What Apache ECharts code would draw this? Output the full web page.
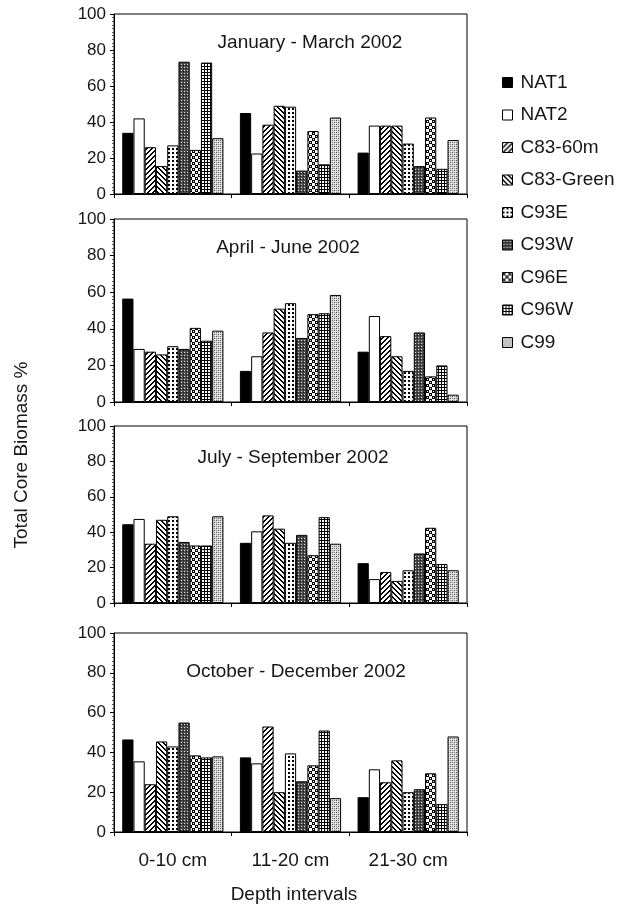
<!DOCTYPE html>
<html>
<head>
<meta charset="utf-8">
<script src="https://cdn.jsdelivr.net/npm/echarts@6/dist/echarts.min.js"></script>
<style>
html,body{margin:0;padding:0;background:#fff;}
#chart{width:622px;height:906px;}
</style>
</head>
<body>
<div id="chart"></div>
<script>
// ---- data ----
const categories = ['0-10 cm', '11-20 cm', '21-30 cm'];
const seriesNames = ['NAT1', 'NAT2', 'C83-60m', 'C83-Green', 'C93E', 'C93W', 'C96E', 'C96W', 'C99'];
const periods = ['January - March 2002', 'April - June 2002', 'July - September 2002', 'October - December 2002'];
const yTickLabels = ['0', '20', '40', '60', '80', '100'];

// rows: one per series (same order as seriesNames), columns: depth intervals
const janMar = [
  [34, 45, 23],
  [42, 22.5, 38],
  [26, 38.5, 38],
  [15.5, 49, 38],
  [27, 48.5, 28],
  [73.5, 13, 15.5],
  [24.5, 35, 42.5],
  [73, 16.5, 14],
  [31, 42.5, 30]
];
const aprJun = [
  [56.5, 17, 27.5],
  [29, 25, 47],
  [27.5, 38, 36],
  [26, 51, 25],
  [30.5, 54, 17],
  [29, 35, 38],
  [40.5, 48, 14],
  [33.5, 48.5, 20],
  [39, 58.5, 4]
];
const julSep = [
  [44.5, 34, 22.5],
  [47.5, 40.5, 13.5],
  [33.5, 49.5, 17.5],
  [47, 42, 12.5],
  [49, 34, 18.5],
  [34.5, 38.5, 28],
  [32.5, 27, 42.5],
  [32.5, 48.5, 22],
  [49, 33.5, 18.5]
];
const octDec = [
  [46.5, 37.5, 17.5],
  [35.5, 34.5, 31.5],
  [24, 53, 25],
  [45.5, 20, 36],
  [43, 39.5, 20],
  [55, 25.5, 21.5],
  [38.5, 33.5, 29.5],
  [37.5, 51, 14],
  [38, 17, 48]
];
const panelData = [janMar, aprJun, julSep, octDec];

// ---- patterns ----
function pat(w, h, bg, draw) {
  const c = document.createElement('canvas');
  c.width = w; c.height = h;
  const g = c.getContext('2d');
  g.fillStyle = bg; g.fillRect(0, 0, w, h);
  g.fillStyle = '#000';
  draw(g, w, h);
  return { image: c, repeat: 'repeat' };
}
const fills = [
  '#000000',
  '#ffffff',
  pat(5, 5, '#fff', (g, w) => { for (let y = 0; y < w; y++) for (let k = 0; k < 2; k++) g.fillRect((w - 1 - y + k + w) % w, y, 1, 1); }),
  pat(5, 5, '#fff', (g, w) => { for (let y = 0; y < w; y++) for (let k = 0; k < 2; k++) g.fillRect((y + k) % w, y, 1, 1); }),
  pat(4, 4, '#fff', (g) => { g.fillRect(0, 0, 2, 2); }),
  pat(3, 3, '#4a4a4a', (g) => { g.fillStyle = '#ddd'; g.fillRect(1, 1, 1, 1); g.fillStyle = '#111'; g.fillRect(0, 2, 1, 1); }),
  pat(6, 6, '#fff', (g) => { g.fillRect(0, 0, 3, 3); g.fillRect(3, 3, 3, 3); g.fillStyle = '#fff'; g.fillRect(1, 1, 1, 1); g.fillRect(4, 4, 1, 1); }),
  pat(3, 3, '#fff', (g) => { g.fillRect(0, 0, 3, 1); g.fillRect(0, 0, 1, 3); }),
  pat(4, 4, '#d8d8d8', (g) => { g.fillStyle = '#555'; g.fillRect(0, 0, 1, 1); g.fillRect(2, 2, 1, 1); g.fillStyle = '#888'; g.fillRect(2, 0, 1, 1); g.fillRect(0, 2, 1, 1); g.fillStyle = '#fff'; g.fillRect(1, 1, 1, 1); g.fillRect(3, 3, 1, 1); })
];

// ---- layout ----
const grids = [
  { left: 114, right: 155, top: 14, height: 180 },
  { left: 114, right: 155, top: 219, height: 183 },
  { left: 114, right: 155, top: 426, height: 177 },
  { left: 114, right: 155, top: 633, height: 199 }
];
const titlePos = [[310, 43], [288, 248], [293, 458], [296, 672]];
const FONT = '"Liberation Sans", Arial, sans-serif';
const txt = '#161616';

const xAxes = grids.map((g, i) => ({
  type: 'category', gridIndex: i, data: categories,
  axisLine: { lineStyle: { color: '#000', width: 1 } },
  axisTick: { show: true, length: 4, alignWithLabel: false, lineStyle: { color: '#000' } },
  axisLabel: { show: i === 3, fontSize: 19, color: txt, fontFamily: FONT, margin: 19 },
  splitLine: { show: false }
}));
const yAxes = grids.map((g, i) => ({
  type: 'value', gridIndex: i, min: 0, max: 100, interval: 20,
  axisLine: { show: true, lineStyle: { color: '#000', width: 1 } },
  axisTick: { show: true, length: 4, lineStyle: { color: '#000' } },
  minorTick: { show: true, splitNumber: 10, length: 2, lineStyle: { color: '#555' } },
  axisLabel: { fontSize: 17, color: txt, fontFamily: FONT, margin: 8,
    formatter: (v) => yTickLabels[Math.round(v / 20)] },
  splitLine: { show: false }
}));

const series = [];
panelData.forEach((pd, gi) => {
  pd.forEach((vals, si) => {
    series.push({
      type: 'bar', name: seriesNames[si], xAxisIndex: gi, yAxisIndex: gi,
      data: vals, barGap: '0%', barCategoryGap: '14%',
      itemStyle: { color: fills[si], borderColor: '#000', borderWidth: 1 },
      emphasis: { disabled: true }
    });
  });
});

const graphics = periods.map((p, i) => ({
  type: 'text', x: titlePos[i][0], y: titlePos[i][1],
  style: { text: p, font: '19px ' + FONT, fill: txt, textAlign: 'center', textVerticalAlign: 'middle' }
}));
graphics.push({
  type: 'text', x: 22, y: 455, rotation: Math.PI / 2,
  style: { text: 'Total Core Biomass %', font: '19px ' + FONT, fill: txt, textAlign: 'center', textVerticalAlign: 'middle' }
});
graphics.push({
  type: 'text', x: 294, y: 895,
  style: { text: 'Depth intervals', font: '19px ' + FONT, fill: txt, textAlign: 'center', textVerticalAlign: 'middle' }
});

const chart = echarts.init(document.getElementById('chart'), null, { renderer: 'canvas' });
chart.setOption({
  animation: false,
  backgroundColor: '#fff',
  grid: grids.map(g => Object.assign({ show: true, borderColor: '#000', borderWidth: 1, backgroundColor: 'transparent' }, g)),
  xAxis: xAxes,
  yAxis: yAxes,
  legend: {
    data: seriesNames, orient: 'vertical', left: 497, top: 68,
    itemWidth: 10, itemHeight: 10, itemGap: 13.5, icon: 'rect',
    itemStyle: { borderColor: '#000', borderWidth: 1 },
    textStyle: { fontSize: 19, lineHeight: 19, color: txt, fontFamily: FONT, padding: [0, 0, 0, 3] },
    selectedMode: false
  },
  graphic: graphics,
  series: series
});
</script>
</body>
</html>
